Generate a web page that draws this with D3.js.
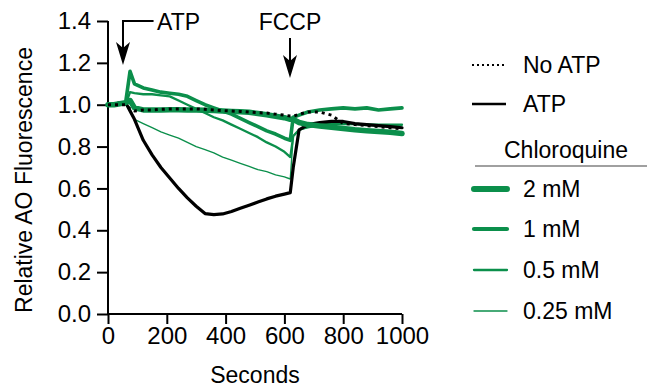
<!DOCTYPE html>
<html>
<head>
<meta charset="utf-8">
<script src="https://cdn.jsdelivr.net/npm/d3@7.9.0/dist/d3.min.js"></script>
<style>
  body { margin: 0; background: #fff; }
  svg { display: block; font-family: "Liberation Sans", Arial, sans-serif; }
</style>
</head>
<body>
<div id="chart"></div>
<script>
const seconds = [0, 20, 40, 60, 75, 90, 120, 150, 180, 210, 240, 270, 300, 330, 360, 390, 420, 450, 480, 510, 540, 570, 600, 620, 630, 650, 680, 720, 760, 800, 840, 880, 920, 960, 1000];

const noAtp = [1.0, 1.0, 1.0, 1.0, 0.98, 0.97, 0.975, 0.975, 0.978, 0.98, 0.98, 0.98, 0.98, 0.978, 0.975, 0.972, 0.97, 0.968, 0.965, 0.962, 0.96, 0.955, 0.95, 0.946, 0.945, 0.955, 0.965, 0.965, 0.95, 0.91, 0.905, 0.9, 0.895, 0.89, 0.885];
const atp = [1.0, 1.0, 1.01, 1.01, 0.97, 0.93, 0.83, 0.76, 0.70, 0.65, 0.60, 0.555, 0.515, 0.48, 0.475, 0.478, 0.49, 0.505, 0.52, 0.535, 0.55, 0.563, 0.573, 0.58, 0.70, 0.88, 0.905, 0.915, 0.92, 0.92, 0.91, 0.905, 0.9, 0.895, 0.89];
const cq2 = [1.0, 1.0, 1.005, 1.01, 1.02, 0.985, 0.975, 0.975, 0.975, 0.976, 0.976, 0.975, 0.975, 0.974, 0.972, 0.97, 0.968, 0.966, 0.964, 0.958, 0.952, 0.945, 0.938, 0.93, 0.93, 0.915, 0.905, 0.898, 0.892, 0.886, 0.88, 0.876, 0.872, 0.868, 0.862];
const cq1 = [1.0, 1.0, 1.005, 1.01, 1.16, 1.10, 1.08, 1.07, 1.06, 1.055, 1.05, 1.04, 1.02, 1.0, 0.985, 0.97, 0.955, 0.935, 0.915, 0.895, 0.875, 0.86, 0.84, 0.83, 0.94, 0.95, 0.965, 0.975, 0.98, 0.985, 0.98, 0.985, 0.975, 0.98, 0.985];
const cq05 = [1.0, 1.0, 1.0, 1.0, 1.06, 1.055, 1.05, 1.05, 1.045, 1.04, 1.02, 1.0, 0.98, 0.96, 0.94, 0.925, 0.905, 0.885, 0.865, 0.845, 0.82, 0.80, 0.775, 0.75, 0.85, 0.88, 0.895, 0.905, 0.91, 0.91, 0.908, 0.906, 0.905, 0.905, 0.905];
const cq025 = [1.0, 1.0, 1.0, 1.0, 0.98, 0.93, 0.91, 0.89, 0.87, 0.855, 0.84, 0.82, 0.80, 0.785, 0.77, 0.75, 0.735, 0.72, 0.705, 0.69, 0.68, 0.665, 0.655, 0.645, 0.85, 0.88, 0.89, 0.9, 0.905, 0.905, 0.905, 0.9, 0.9, 0.9, 0.9];

const xTicks = [0, 200, 400, 600, 800, 1000];
const yTicks = [0, 0.2, 0.4, 0.6, 0.8, 1.0, 1.2, 1.4];

const green = "#0b8f4b";

const series = [
  { name: "0.25 mM", values: cq025, color: green, width: 1.4 },
  { name: "0.5 mM", values: cq05, color: green, width: 2.3 },
  { name: "ATP", values: atp, color: "#000", width: 3.2 },
  { name: "2 mM", values: cq2, color: green, width: 5.5 },
  { name: "1 mM", values: cq1, color: green, width: 3.6 },
  { name: "No ATP", values: noAtp, color: "#000", width: 3, dash: "3 4" },
];

const width = 647;
const height = 389;
const margin = { top: 21, right: 245, bottom: 75, left: 108 };

const svg = d3
  .select("#chart")
  .append("svg")
  .attr("width", width)
  .attr("height", height);

const x = d3.scaleLinear().domain([0, 1000]).range([margin.left, width - margin.right]);
const y = d3.scaleLinear().domain([0, 1.4]).range([height - margin.bottom, margin.top]);

const xAxis = svg
  .append("g")
  .attr("transform", `translate(0, ${height - margin.bottom})`)
  .call(d3.axisBottom(x).tickValues(xTicks).tickSize(10).tickPadding(3).tickFormat(d3.format("d")));

const yAxis = svg
  .append("g")
  .attr("transform", `translate(${margin.left}, 0)`)
  .call(d3.axisLeft(y).tickValues(yTicks).tickSize(11).tickPadding(6).tickFormat(d3.format(".1f")));

for (const g of [xAxis, yAxis]) {
  g.select(".domain").attr("stroke", "#000").attr("stroke-width", 2);
  g.selectAll(".tick line").attr("stroke", "#000").attr("stroke-width", 2);
  g.selectAll(".tick text").attr("fill", "#000").style("font-size", "24px").style("font-family", "Liberation Sans, Arial, sans-serif");
}
xAxis.select(".domain").attr("d", `M${x(0)},0H${x(1000)}`);
yAxis.select(".domain").attr("d", `M0,${y(1.4)}V${y(0)}`);

svg
  .append("text")
  .attr("x", (x(0) + x(1000)) / 2)
  .attr("y", 383)
  .attr("text-anchor", "middle")
  .style("font-size", "23px")
  .text("Seconds");

svg
  .append("text")
  .attr("transform", "translate(32, 180) rotate(-90)")
  .attr("text-anchor", "middle")
  .style("font-size", "23px")
  .text("Relative AO Fluorescence");

const line = d3
  .line()
  .x((d, i) => x(seconds[i]))
  .y((d) => y(d));

svg
  .append("g")
  .attr("class", "lines")
  .selectAll("path")
  .data(series)
  .join("path")
  .attr("d", (d) => line(d.values))
  .attr("fill", "none")
  .attr("stroke", (d) => d.color)
  .attr("stroke-width", (d) => d.width)
  .attr("stroke-dasharray", (d) => d.dash || null)
  .attr("stroke-linejoin", "round")
  .attr("stroke-linecap", (d) => (d.dash ? "butt" : "round"));

// arrows for additions
function arrowHead(g, tipX, tipY) {
  g.append("path")
    .attr("d", `M${tipX - 7},${tipY - 23}L${tipX},${tipY}L${tipX + 7},${tipY - 23}L${tipX},${tipY - 17}Z`)
    .attr("fill", "#000");
}

const notes = svg.append("g").attr("class", "notes");
const atpX = x(51);
notes
  .append("path")
  .attr("d", `M${x(155)},21H${atpX}V55`)
  .attr("fill", "none")
  .attr("stroke", "#000")
  .attr("stroke-width", 2);
arrowHead(notes, atpX, 65);
notes
  .append("text")
  .attr("x", 157)
  .attr("y", 30)
  .style("font-size", "23px")
  .text("ATP");

const fccpX = x(619);
notes
  .append("path")
  .attr("d", `M${fccpX},38V68`)
  .attr("stroke", "#000")
  .attr("stroke-width", 2);
arrowHead(notes, fccpX, 78);
notes
  .append("text")
  .attr("x", fccpX)
  .attr("y", 30)
  .attr("text-anchor", "middle")
  .style("font-size", "23px")
  .text("FCCP");

// legend
const legendTop = [
  { name: "No ATP", color: "#000", width: 2, dash: "2 3", y: 65 },
  { name: "ATP", color: "#000", width: 2.5, y: 104 },
];
const legendCq = [
  { name: "2 mM", width: 6, y: 189 },
  { name: "1 mM", width: 4.2, y: 229 },
  { name: "0.5 mM", width: 2.3, y: 270 },
  { name: "0.25 mM", width: 1.3, y: 311 },
];

const legend = svg.append("g").attr("class", "legend");
for (const item of legendTop) {
  legend
    .append("line")
    .attr("x1", 472)
    .attr("x2", 506)
    .attr("y1", item.y)
    .attr("y2", item.y)
    .attr("stroke", item.color)
    .attr("stroke-width", item.width)
    .attr("stroke-dasharray", item.dash || null);
  legend
    .append("text")
    .attr("x", 523)
    .attr("y", item.y + 8)
    .style("font-size", "23px")
    .text(item.name);
}

legend
  .append("text")
  .attr("x", 566)
  .attr("y", 158)
  .attr("text-anchor", "middle")
  .style("font-size", "23px")
  .text("Chloroquine");
legend
  .append("line")
  .attr("x1", 475)
  .attr("x2", 647)
  .attr("y1", 166)
  .attr("y2", 166)
  .attr("stroke", "#808080")
  .attr("stroke-width", 1.5);

for (const item of legendCq) {
  legend
    .append("line")
    .attr("x1", 474)
    .attr("x2", 507)
    .attr("y1", item.y)
    .attr("y2", item.y)
    .attr("stroke", green)
    .attr("stroke-width", item.width)
    .attr("stroke-linecap", "round");
  legend
    .append("text")
    .attr("x", 523)
    .attr("y", item.y + 8)
    .style("font-size", "23px")
    .text(item.name);
}
</script>
</body>
</html>
